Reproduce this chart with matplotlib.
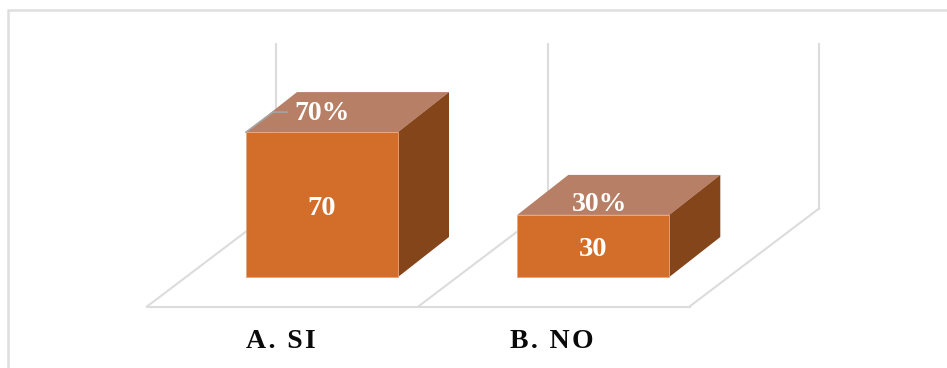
import matplotlib
matplotlib.use("Agg")
import matplotlib.pyplot as plt
from matplotlib.patches import Polygon
from matplotlib.transforms import Affine2D

categories = ["A\u200a.\u200a \u200aS\u200aI", "B\u200a.\u200a \u200aN\u200aO"]
values = [70, 30]
percent_labels = ["70%", "30%"]

W, H = 947, 368
PX_PER_CAT = 271.3
PX_PER_UNIT = 2.07
ORIGIN_X, ORIGIN_Y = 322.0, 277.0

bar_w = 152 / PX_PER_CAT
depth_x = 51 / PX_PER_CAT
depth_y = 40 / PX_PER_UNIT

plt.rcParams['font.family'] = ['Liberation Serif', 'DejaVu Serif']

fig = plt.figure(figsize=(W / 100, H / 100), dpi=100)
ax = fig.add_axes([0, 0, 1, 1])
ax.set_xlim(-ORIGIN_X / PX_PER_CAT, (W - ORIGIN_X) / PX_PER_CAT)
ax.set_ylim((ORIGIN_Y - H) / PX_PER_UNIT, ORIGIN_Y / PX_PER_UNIT)
ax.axis('off')

grid_c = '#dcdcdc'
floor_y = -29.5 / PX_PER_UNIT
wall_top = 233 / PX_PER_UNIT
floor_dx = 129.4 / PX_PER_CAT
floor_dy = 98 / PX_PER_UNIT
left_x = -175 / PX_PER_CAT
lab_size = 20.5

# floor outline and the back wall gridlines
ax.plot([left_x, left_x + 2], [floor_y, floor_y], color=grid_c, lw=1.5, zorder=1)
for i in range(3):
    x0 = left_x + i
    ax.plot([x0, x0 + floor_dx], [floor_y, floor_y + floor_dy], color=grid_c, lw=1.5, zorder=1)
    ax.plot([x0 + floor_dx] * 2, [floor_y + floor_dy, wall_top], color=grid_c, lw=1.5, zorder=1)

# 3d columns: front, top and side faces
for i, v in enumerate(values):
    l, r = i - bar_w / 2, i + bar_w / 2
    ax.add_patch(Polygon([(l, 0), (r, 0), (r, v), (l, v)], fc='#d26e2a', ec='#e9a67c', lw=0.6, zorder=3))
    ax.add_patch(Polygon([(l, v), (r, v), (r + depth_x, v + depth_y), (l + depth_x, v + depth_y)],
                         fc='#b67f66', ec='none', zorder=2))
    ax.add_patch(Polygon([(r, 0), (r + depth_x, depth_y), (r + depth_x, v + depth_y), (r, v)],
                         fc='#84451a', ec='none', zorder=2))
    ax.text(i, v / 2 - 3.5 / PX_PER_UNIT, str(v), color='white', fontsize=lab_size, fontweight='bold',
            ha='center', va='center', zorder=5)
    ax.text(i - 41 / PX_PER_CAT, -64 / PX_PER_UNIT, categories[i], color='#0a0a0a', fontsize=20,
            fontweight='bold', ha='center', va='center', zorder=5)

# percentage labels sitting on the top faces
ax.text(0.0, 70 + 18.5 / PX_PER_UNIT, percent_labels[0], color='white', fontsize=20, fontweight='bold',
        ha='center', va='center', zorder=5)
ax.text(1 + 0.024, 30 + 10 / PX_PER_UNIT, percent_labels[1], color='white', fontsize=20, fontweight='bold',
        ha='center', va='center', zorder=5)

# leader line from the first column to its percentage
ax.plot([-bar_w / 2, -bar_w / 2 + 27 / PX_PER_CAT, -bar_w / 2 + 41 / PX_PER_CAT],
        [70, 70 + 20 / PX_PER_UNIT, 70 + 20 / PX_PER_UNIT], color='#a5a5a5', lw=1.2, zorder=4)

# chart frame, open on the right and bottom
ax.plot([8, 8, 947], [368, 10, 10], color='#dedede', lw=1.8, zorder=0,
        transform=Affine2D().scale(1, -1).translate(0, H))

fig.savefig('out.png', dpi=100)
